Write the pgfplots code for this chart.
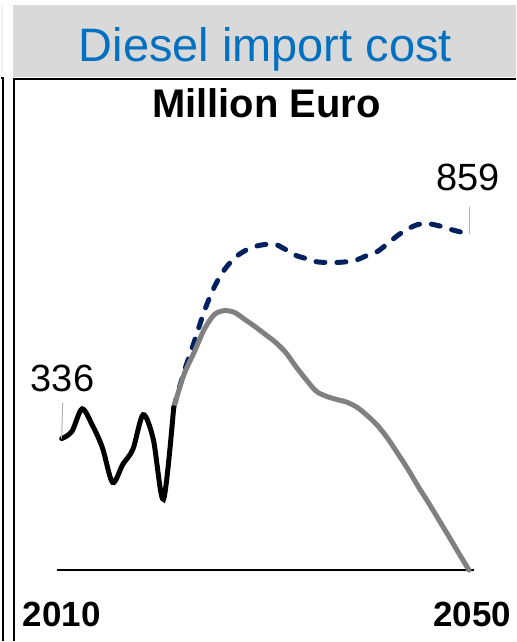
\documentclass[border=0pt]{standalone}
\usepackage{pgfplots}
\pgfplotsset{compat=1.18}
\usepackage{fontspec}
\setmainfont{Liberation Sans}

\definecolor{bandgray}{RGB}{217,217,217}
\definecolor{titleblue}{RGB}{0,112,192}
\definecolor{navy}{RGB}{0,32,96}
\definecolor{midgray}{RGB}{128,128,128}

% Annual import cost, million euro
\pgfplotstableread{
year value
2010 336
2011 354
2012 412
2013 371
2014 313
2015 224
2016 270
2017 309
2018 397
2019 334
2020 181
2021 415
}\history

\pgfplotstableread{
year value
2021 415
2022 499
2023 556
2024 615
2025 653
2026 663
2027 658
2028 640
2029 622
2030 602
2031 582
2032 556
2033 520
2034 487
2035 457
2036 444
2037 436
2038 429
2039 416
2040 395
2041 370
2042 337
2043 298
2044 258
2045 214
2046 173
2047 130
2048 87
2049 43
2050 0
}\reduced

\pgfplotstableread{
year value
2021 415
2022 505
2023 582
2024 661
2025 724
2026 768
2027 798
2028 816
2029 827
2030 832
2031 832
2032 819
2033 804
2034 796
2035 788
2036 786
2037 786
2038 788
2039 793
2040 804
2041 814
2042 834
2043 855
2044 872
2045 883
2046 885
2047 880
2048 872
2049 865
2050 859
}\baseline

\begin{document}
\begin{tikzpicture}[x=1pt,y=1pt]
  % canvas
  \fill[white] (0,0) rectangle (516,642);
  % edge of the neighbouring panel
  \fill[bandgray!40] (0,570) rectangle (2,637);
  \draw[line width=1.5pt] (0,564) -- (2.5,564) -- (2.5,0);
  % title band and frame
  \fill[bandgray] (12,565) rectangle (516,637);
  \draw[line width=2pt] (13.5,0) -- (13.5,563) -- (516,563);
  \node[anchor=base, text=titleblue, font=\fontsize{47}{50}\selectfont, inner sep=0pt]
    at (265,580) {Diesel import cost};
  \node[anchor=base, font=\fontsize{40}{44}\selectfont\bfseries, inner sep=0pt]
    at (266,524) {Million Euro};

  \begin{axis}[
      at={(61pt,71pt)}, anchor=south west,
      scale only axis, width=408pt, height=392pt,
      xmin=2010, xmax=2050, ymin=0, ymax=1000,
      hide axis, clip=false,
    ]
    % zero line
    \addplot[black, line width=1.6pt] coordinates {(2009.5,0) (2050.5,0)};
    % projections
    \addplot[navy, line width=5pt, smooth, line cap=round,
             dash pattern=on 9pt off 12pt] table[x=year, y=value] {\baseline};
    \addplot[midgray, line width=5pt, smooth, line cap=round] table[x=year, y=value] {\reduced};
    % history
    \addplot[black, line width=5pt, smooth, line cap=round] table[x=year, y=value] {\history};

    % value callouts
    \draw[gray!60, line width=1pt] (axis cs:2010,336) -- ++(1pt,36pt);
    \node[anchor=base west, inner sep=0pt, font=\fontsize{38}{40}\selectfont,
          xshift=-31pt, yshift=47pt] at (axis cs:2010,336) {336};
    \draw[gray!60, line width=1pt] (axis cs:2050,859) -- ++(0pt,27pt);
    \node[anchor=base west, inner sep=0pt, font=\fontsize{38}{40}\selectfont,
          xshift=-33pt, yshift=43pt] at (axis cs:2050,859) {859};

    % end years
    \node[anchor=base, inner sep=0pt, font=\fontsize{35}{38}\selectfont\bfseries,
          yshift=-56pt] at (axis cs:2010,0) {2010};
    \node[anchor=base, inner sep=0pt, font=\fontsize{35}{38}\selectfont\bfseries,
          yshift=-56pt] at (axis cs:2050.3,0) {2050};
  \end{axis}
\end{tikzpicture}
\end{document}
